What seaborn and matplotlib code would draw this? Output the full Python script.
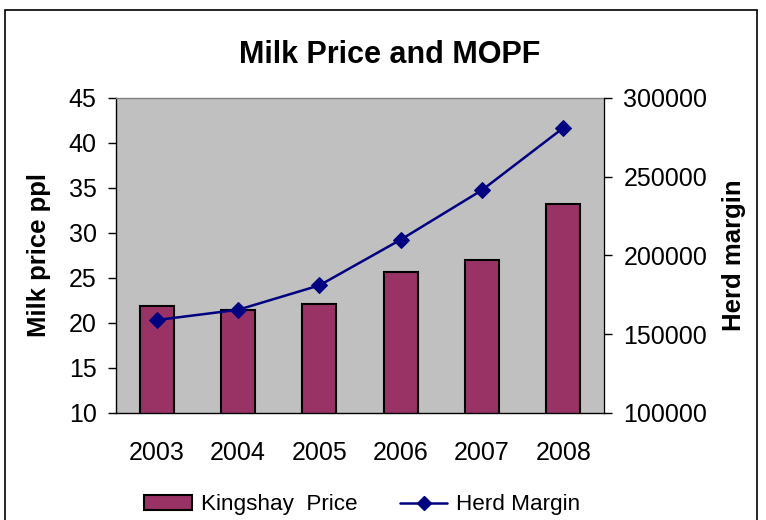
import matplotlib
matplotlib.use("Agg")
import matplotlib.pyplot as plt
from matplotlib.patches import Rectangle, Patch
from matplotlib.lines import Line2D
import seaborn as sns
import pandas as pd
import numpy as np

years = ["2003", "2004", "2005", "2006", "2007", "2008"]
kingshay_price = [21.9, 21.4, 22.1, 25.7, 27.0, 33.2]
herd_margin = [159000, 165500, 181000, 210000, 241500, 281000]

bar_color = "#993366"
line_color = "#000080"

sns.set_style("white")
plt.rcParams["font.family"] = ["Liberation Sans", "DejaVu Sans"]
plt.rcParams["text.color"] = "black"
plt.rcParams["axes.labelcolor"] = "black"
plt.rcParams["xtick.color"] = "black"
plt.rcParams["ytick.color"] = "black"

df = pd.DataFrame({"year": years, "price": kingshay_price, "margin": herd_margin})
df["pos"] = np.arange(len(df))

fig = plt.figure(figsize=(7.66, 5.2), dpi=100)
ax = fig.add_axes([0.1514, 0.2058, 0.6371, 0.6058])
ax.set_facecolor("#C0C0C0")

sns.barplot(data=df, x="year", y="price", color=bar_color, width=0.42,
            edgecolor="black", linewidth=1.5, saturation=1, ax=ax)
ax.set_ylim(10, 45)
ax.set_yticks(np.arange(10, 46, 5))
ax.set_xlim(-0.5, len(years) - 0.5)

# category boundaries as tick marks, labels in the middle
ax.set_xticks(np.arange(-0.5, len(years), 1.0))
ax.set_xticklabels([])
ax.set_xticks(np.arange(len(years)), minor=True)
ax.set_xticklabels(years, minor=True)
ax.tick_params(axis="x", which="major", direction="inout", length=12, width=1, color="black")
ax.tick_params(axis="x", which="minor", length=0, pad=20, labelsize=18)
ax.tick_params(axis="y", direction="out", length=6, width=1, color="black", pad=8, labelsize=18)
ax.set_xlabel("")
ax.set_ylabel("Milk price ppl", fontsize=18.5, fontweight="bold")
ax.yaxis.set_label_coords(-0.133, 0.5)

for s in ax.spines.values():
    s.set_color("#808080")
    s.set_linewidth(1)
ax.spines["left"].set_color("black")
ax.spines["bottom"].set_color("black")

ax2 = ax.twinx()
sns.lineplot(data=df, x="pos", y="margin", color=line_color, linewidth=1.8,
             marker="D", markersize=8, markeredgecolor=line_color, ax=ax2)
ax2.set_ylim(100000, 300000)
ax2.set_yticks(np.arange(100000, 300001, 50000))
ax2.set_xlim(-0.5, len(years) - 0.5)
ax2.tick_params(axis="y", direction="out", length=6, width=1, color="black", pad=8, labelsize=18)
ax2.set_ylabel("Herd margin", fontsize=18.5, fontweight="bold")
ax2.yaxis.set_label_coords(1.242, 0.5)
ax2.spines["right"].set_color("black")
for s in ["top", "left", "bottom"]:
    ax2.spines[s].set_visible(False)

fig.text(0.509, 0.895, "Milk Price and MOPF", ha="center", va="center",
         fontsize=22, fontweight="bold")

handles = [
    Patch(facecolor=bar_color, edgecolor="black", linewidth=1.5),
    Line2D([], [], color=line_color, linewidth=1.8, marker="D", markersize=7),
]
fig.legend(handles, ["Kingshay  Price", "Herd Margin"], loc="center",
           bbox_to_anchor=(0.473, 0.029), ncol=2, frameon=False, fontsize=16.2,
           handlelength=2.1, handletextpad=0.4, columnspacing=1.9)

fig.patches.append(Rectangle((5 / 766, -0.1), 752 / 766, 1.1 - 10 / 520,
                             transform=fig.transFigure, fill=False,
                             edgecolor="black", linewidth=1.2))

fig.savefig("out.png", dpi=100)
